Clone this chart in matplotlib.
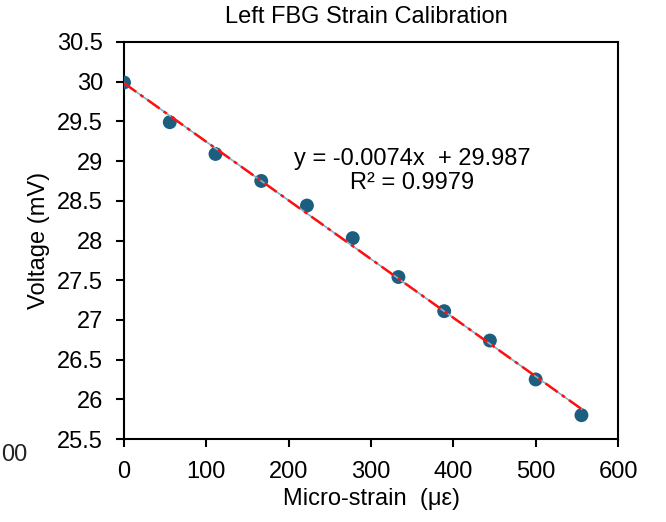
import numpy as np
import matplotlib
matplotlib.use("Agg")
import matplotlib.pyplot as plt

plt.rcParams['font.family'] = ['Liberation Sans', 'DejaVu Sans']

strain = [0, 55.6, 111.1, 166.7, 222.2, 277.8, 333.3, 388.9, 444.4, 500.0, 555.6]
voltage = [29.99, 29.49, 29.09, 28.75, 28.44, 28.03, 27.54, 27.11, 26.74, 26.25, 25.80]
x_ticks = [0, 100, 200, 300, 400, 500, 600]
y_ticks = [25.5, 26, 26.5, 27, 27.5, 28, 28.5, 29, 29.5, 30, 30.5]
y_tick_labels = ["25.5", "26", "26.5", "27", "27.5", "28", "28.5", "29", "29.5", "30", "30.5"]
title = "Left FBG Strain Calibration"
eq_text = "y = -0.0074x  + 29.987\nR² = 0.9979"

W, H = 666, 522
FS = 17
fig = plt.figure(figsize=(W/100, H/100), dpi=100)
ax = fig.add_axes([124/W, 1-439/H, (618-124)/W, (439-42)/H])

x = np.array(strain)
y = np.array(voltage)
slope, icpt = np.polyfit(x, y, 1)
xl = np.array([x.min(), x.max()])
ax.scatter(x, y, s=100, color='#1b5e80', zorder=3, edgecolors='none')
ax.plot(xl, slope*xl + icpt, color='#7fb3cf', lw=1.2, zorder=4)
ax.plot(xl, slope*xl + icpt, color='#ff1010', lw=1.8, ls=(0, (6, 2, 1.5, 2)), zorder=5)

ax.set_xlim(0, 600)
ax.set_ylim(25.5, 30.5)
ax.set_xticks(x_ticks)
ax.set_yticks(y_ticks)
ax.set_yticklabels(y_tick_labels)
ax.tick_params(direction='out', length=6, width=1.5, labelsize=FS)
ax.tick_params(axis='y', pad=9)
ax.tick_params(axis='x', pad=10)
for s in ax.spines.values():
    s.set_linewidth(1.5)

ax.set_xlabel("Micro-strain  (με)", fontsize=FS)
ax.xaxis.set_label_coords(371/W, 1-488/H, transform=fig.transFigure)
ax.set_ylabel("Voltage (mV)", fontsize=FS)
ax.yaxis.set_label_coords(50/W, 1-240/H, transform=fig.transFigure)
fig.text(366/W, 1-17/H, title, ha='center', va='center', fontsize=FS)
fig.text(412/W, 1-171/H, eq_text, ha='center', va='center', fontsize=FS, linespacing=1.15)

fig.text(1/W, 1-455/H, "00", ha='left', va='center', fontsize=FS, color='#222222')

fig.savefig("out.png", dpi=100)
